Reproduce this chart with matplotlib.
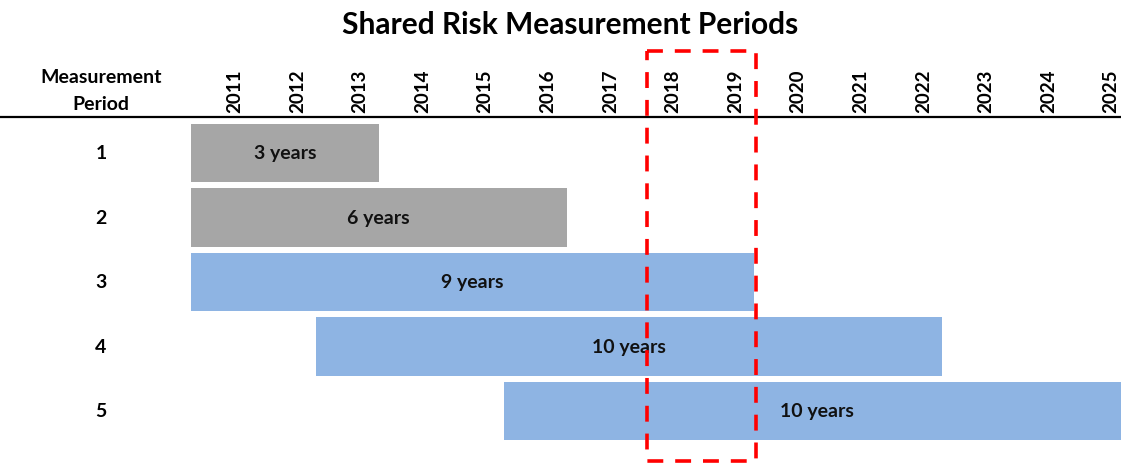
import matplotlib
matplotlib.use("Agg")
import matplotlib.pyplot as plt
from matplotlib.patches import Rectangle

periods = ["1", "2", "3", "4", "5"]
start_years = [2011, 2011, 2011, 2013, 2016]
durations = [3, 6, 9, 10, 10]
bar_labels = ["3 years", "6 years", "9 years", "10 years", "10 years"]
bar_colors = ["#A6A6A6", "#A6A6A6", "#8EB4E3", "#8EB4E3", "#8EB4E3"]
years = list(range(2011, 2026))
highlight = (2018.29, 2020.02)

plt.rcParams['font.family'] = ['Lato', 'DejaVu Sans']
plt.rcParams['font.weight'] = 'bold'

W, H = 1121, 464
fig = plt.figure(figsize=(W / 100, H / 100), dpi=100)
ax = fig.add_axes([0, 0, 1, 1])

px_per_year = 62.6
x0_px = 191
xl = 2011 - x0_px / px_per_year
xr = 2011 + (W - x0_px) / px_per_year
row_sp = 64.5
r1_px = 154
yt = 1 - r1_px / row_sp
yb = 1 + (H - r1_px) / row_sp
ax.set_xlim(xl, xr)
ax.set_ylim(yb, yt)
ax.axis('off')

rows = list(range(1, len(periods) + 1))
ax.barh(rows, durations, left=start_years, height=0.9, color=bar_colors, edgecolor='none')
for r, s, d, lab in zip(rows, start_years, durations, bar_labels):
    ax.text(s + d / 2, r, lab, ha='center', va='center', fontsize=14, fontweight='bold', color='#111111')
    ax.text(xl + 101 / px_per_year, r, periods[r - 1], ha='center', va='center', fontsize=14, fontweight='bold')

def ypx(p):
    return 1 + (p - r1_px) / row_sp

for y in years:
    ax.text(y + 0.7, ypx(113), str(y), rotation=90, ha='center', va='bottom', fontsize=13.5, fontweight='bold')

ax.text(xl + 101 / px_per_year, ypx(91), "Measurement\nPeriod", ha='center', va='center',
        fontsize=14, fontweight='bold', linespacing=1.75)

ax.plot([xl, xr], [ypx(118), ypx(118)], color='black', lw=1.6, clip_on=False)

ax.text(xl + 570 / px_per_year, ypx(25), "Shared Risk Measurement Periods", ha='center', va='center',
        fontsize=21.5, fontweight='bold')

rect = Rectangle((highlight[0], ypx(52)), highlight[1] - highlight[0], ypx(462) - ypx(52),
                 fill=False, edgecolor='#FF0000', lw=2.6, linestyle=(0, (4.4, 3.3)), clip_on=False, zorder=5)
ax.add_patch(rect)

fig.savefig("out.png", dpi=100)
